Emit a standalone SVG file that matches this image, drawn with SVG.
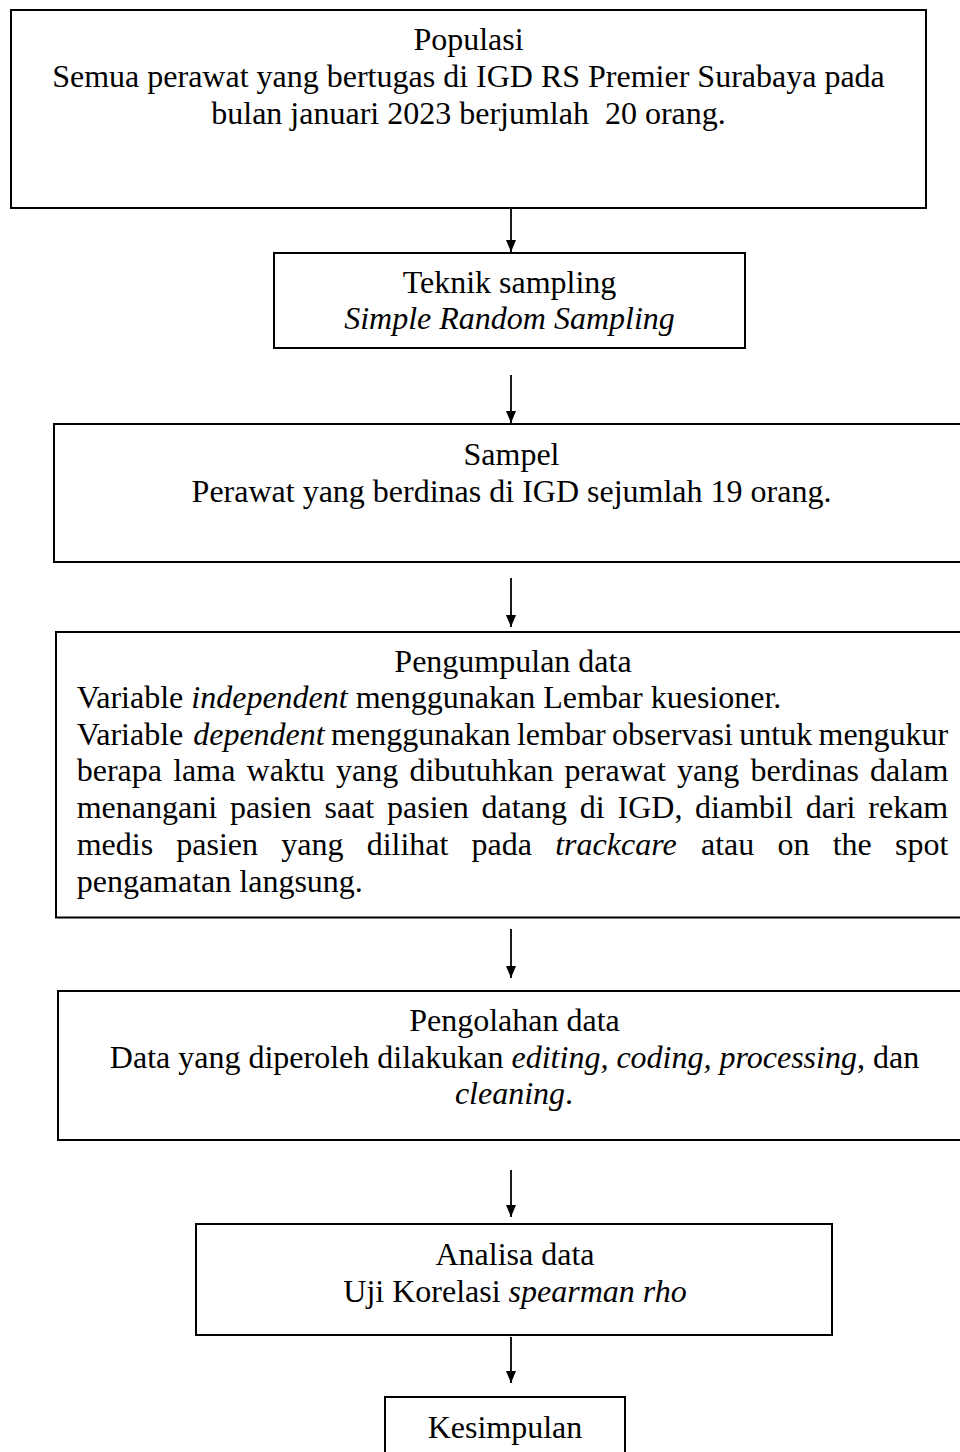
<svg xmlns="http://www.w3.org/2000/svg" width="960" height="1452" viewBox="0 0 960 1452">
<style>
  .box{fill:#fff;stroke:#000;stroke-width:2}
  .t{font-family:"Liberation Serif","Times New Roman",serif;font-size:32px;fill:#000}
  .c{text-anchor:middle}
  .i{font-style:italic}
  .conn{stroke:#000;stroke-width:1.8;fill:none}
</style>
<defs>
  <marker id="ah" viewBox="0 0 12 10" refX="12" refY="5" markerWidth="12" markerHeight="10" markerUnits="userSpaceOnUse" orient="auto">
    <path d="M0,0 L12,5 L0,10 z" fill="#000"/>
  </marker>
</defs>
<rect width="960" height="1452" fill="#fff"/>

<g id="connectors">
  <line class="conn" x1="511" y1="209" x2="511" y2="252" marker-end="url(#ah)"/>
  <line class="conn" x1="511" y1="375" x2="511" y2="423" marker-end="url(#ah)"/>
  <line class="conn" x1="511" y1="578" x2="511" y2="627" marker-end="url(#ah)"/>
  <line class="conn" x1="511" y1="929" x2="511" y2="978" marker-end="url(#ah)"/>
  <line class="conn" x1="511" y1="1170" x2="511" y2="1217" marker-end="url(#ah)"/>
  <line class="conn" x1="511" y1="1337" x2="511" y2="1383" marker-end="url(#ah)"/>
</g>

<g id="populasi">
  <rect class="box" x="11" y="10" width="915" height="198"/>
  <text class="t c" x="468.5" y="50">Populasi</text>
  <text class="t c" x="468.5" y="87">Semua perawat yang bertugas di IGD RS Premier Surabaya pada</text>
  <text class="t c" x="468.5" y="123.5" xml:space="preserve" style="white-space:pre">bulan januari 2023 berjumlah  20 orang.</text>
</g>

<g id="teknik-sampling">
  <rect class="box" x="274" y="253" width="471" height="95"/>
  <text class="t c" x="509.5" y="292.5">Teknik sampling</text>
  <text class="t c i" x="509.5" y="329">Simple Random Sampling</text>
</g>

<g id="sampel">
  <rect class="box" x="54" y="424" width="916" height="138"/>
  <text class="t c" x="511.5" y="465">Sampel</text>
  <text class="t c" x="511.5" y="502">Perawat yang berdinas di IGD sejumlah 19 orang.</text>
</g>

<g id="pengumpulan-data">
  <rect class="box" x="56" y="632" width="916" height="285.5"/>
  <text class="t c" x="513" y="671.5">Pengumpulan data</text>
  <text class="t" x="76.7" y="708">Variable <tspan class="i">independent</tspan> menggunakan Lembar kuesioner.</text>
  <text class="t" y="744.5"><tspan x="76.7">Variable</tspan><tspan x="193.2" class="i">dependent</tspan><tspan x="331.05">menggunakan</tspan><tspan x="516.9">lembar</tspan><tspan x="612.1">observasi</tspan><tspan x="739.3">untuk</tspan><tspan x="818.5">mengukur</tspan></text>
  <text class="t" y="781"><tspan x="76.7">berapa</tspan><tspan x="173.2">lama</tspan><tspan x="246.6">waktu</tspan><tspan x="336">yang</tspan><tspan x="409.4">dibutuhkan</tspan><tspan x="564.6">perawat</tspan><tspan x="677.1">yang</tspan><tspan x="750.5">berdinas</tspan><tspan x="870.1">dalam</tspan></text>
  <text class="t" y="818"><tspan x="76.7">menangani</tspan><tspan x="229.9">pasien</tspan><tspan x="324.5">saat</tspan><tspan x="387.1">pasien</tspan><tspan x="481.6">datang</tspan><tspan x="579.8">di</tspan><tspan x="617.5">IGD,</tspan><tspan x="695.1">diambil</tspan><tspan x="805.7">dari</tspan><tspan x="868.3">rekam</tspan></text>
  <text class="t" y="854.5"><tspan x="76.7">medis</tspan><tspan x="176.3">pasien</tspan><tspan x="281.3">yang</tspan><tspan x="366.7">dilihat</tspan><tspan x="471.6">pada</tspan><tspan x="555.2" class="i">trackcare</tspan><tspan x="701">atau</tspan><tspan x="777.5">on</tspan><tspan x="832.7">the</tspan><tspan x="895">spot</tspan></text>
  <text class="t" x="76.7" y="891.5">pengamatan langsung.</text>
</g>

<g id="pengolahan-data">
  <rect class="box" x="58" y="991" width="914" height="149"/>
  <text class="t c" x="514.5" y="1031">Pengolahan data</text>
  <text class="t c" x="514.5" y="1067.5">Data yang diperoleh dilakukan <tspan class="i">editing, coding, processing</tspan>, dan</text>
  <text class="t c" x="514" y="1104"><tspan class="i">cleaning</tspan>.</text>
</g>

<g id="analisa-data">
  <rect class="box" x="196" y="1224" width="636" height="111"/>
  <text class="t c" x="515" y="1265">Analisa data</text>
  <text class="t c" x="515" y="1302">Uji Korelasi <tspan class="i">spearman rho</tspan></text>
</g>

<g id="kesimpulan">
  <rect class="box" x="385" y="1397" width="240" height="70"/>
  <text class="t c" x="505" y="1438">Kesimpulan</text>
</g>
</svg>
